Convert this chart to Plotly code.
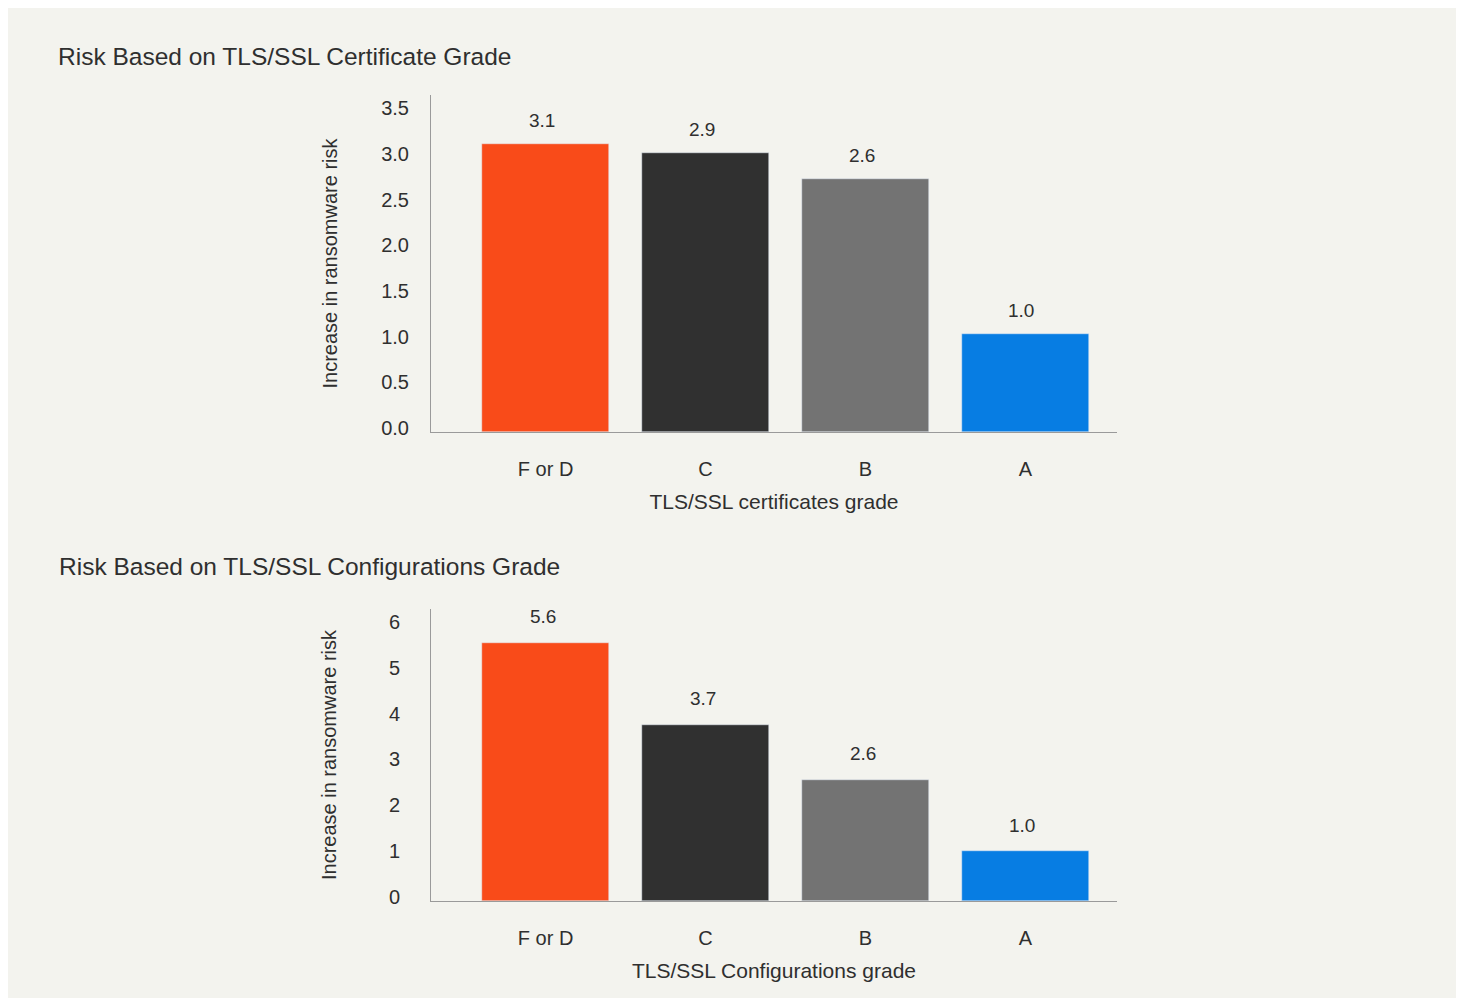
import plotly.graph_objects as go

# ---- data ----
grades = ["F or D", "C", "B", "A"]
cert_values = [3.15, 3.05, 2.77, 1.07]
cert_labels = ["3.1", "2.9", "2.6", "1.0"]
conf_values = [5.63, 3.84, 2.64, 1.09]
conf_labels = ["5.6", "3.7", "2.6", "1.0"]
bar_colors = ["#F94B19", "#303030", "#737373", "#077DE3"]

cert_ticks = [0.0, 0.5, 1.0, 1.5, 2.0, 2.5, 3.0, 3.5]
cert_ticktext = ["0.0", "0.5", "1.0", "1.5", "2.0", "2.5", "3.0", "3.5"]
conf_ticks = [0, 1, 2, 3, 4, 5, 6]

title_top = "Risk Based on TLS/SSL Certificate Grade"
title_bottom = "Risk Based on TLS/SSL Configurations Grade"
ytitle = "Increase in ransomware risk"
xtitle_top = "TLS/SSL certificates grade"
xtitle_bottom = "TLS/SSL Configurations grade"

W, H = 1460, 1005
Hr = 998  # target pixel frame used for placement fractions
FONT = "Liberation Sans"
TXT = "#2f2f2f"
AX = "#9a9a9a"
BG = "#F3F3EE"

fig = go.Figure()
fig.add_trace(go.Bar(x=grades, y=cert_values, marker_color=bar_colors, width=0.79,
                     xaxis="x", yaxis="y", showlegend=False, hoverinfo="skip"))
fig.add_trace(go.Bar(x=grades, y=conf_values, marker_color=bar_colors, width=0.79,
                     xaxis="x2", yaxis="y2", showlegend=False, hoverinfo="skip"))

xd = [431 / W, 1117 / W]
top_dom = [1 - 432 / Hr, 1 - 95 / Hr]
bot_dom = [1 - 901 / Hr, 1 - 609 / Hr]
xrange_ = [-0.716, 3.572]

common_x = dict(type="category", range=xrange_, showline=True, linecolor=AX, linewidth=1,
                showgrid=False, zeroline=False, ticks="", ticklabelstandoff=19,
                tickfont=dict(family=FONT, size=20, color=TXT),
                title_font=dict(family=FONT, size=21, color=TXT), title_standoff=15)
common_y = dict(showline=True, linecolor=AX, linewidth=1, showgrid=False, zeroline=False,
                ticks="", ticklabelshift=-4, tickfont=dict(family=FONT, size=20, color=TXT),
                title_font=dict(family=FONT, size=20, color=TXT))

fig.update_layout(
    width=W, height=H, margin=dict(l=0, r=0, t=0, b=0),
    paper_bgcolor="white", plot_bgcolor=BG,
    bargap=0,
    xaxis=dict(domain=xd, anchor="y", title_text=xtitle_top, **common_x),
    yaxis=dict(domain=top_dom, anchor="x", range=[0, 3.69], tickvals=cert_ticks,
               ticktext=cert_ticktext, title_text=ytitle, ticklabelstandoff=17,
               title_standoff=38, **common_y),
    xaxis2=dict(domain=xd, anchor="y2", title_text=xtitle_bottom, **common_x),
    yaxis2=dict(domain=bot_dom, anchor="x2", range=[0, 6.37], tickvals=conf_ticks,
                title_text=ytitle, ticklabelstandoff=26, title_standoff=46, **common_y),
)

fig.add_shape(type="rect", xref="paper", yref="paper", x0=8 / W, x1=1456 / W,
              y0=0, y1=1 - 8 / Hr, fillcolor=BG, line_width=0, layer="below")

annotations = []
for g, v, t in zip(grades, cert_values, cert_labels):
    annotations.append(dict(x=g, y=v, xref="x", yref="y", text=t, showarrow=False,
                            yshift=24, xshift=-4,
                            font=dict(family=FONT, size=19, color=TXT)))
for g, v, t in zip(grades, conf_values, conf_labels):
    annotations.append(dict(x=g, y=v, xref="x2", yref="y2", text=t, showarrow=False,
                            yshift=26, xshift=-3,
                            font=dict(family=FONT, size=19, color=TXT)))
annotations.append(dict(x=56 / W, y=1 - 56 / Hr, xref="paper", yref="paper", text=title_top,
                        showarrow=False, xanchor="left", yanchor="middle",
                        font=dict(family=FONT, size=24.5, color=TXT)))
annotations.append(dict(x=57 / W, y=1 - 566 / Hr, xref="paper", yref="paper", text=title_bottom,
                        showarrow=False, xanchor="left", yanchor="middle",
                        font=dict(family=FONT, size=24.5, color=TXT)))
fig.update_layout(annotations=annotations)

fig.write_html("out.html")
